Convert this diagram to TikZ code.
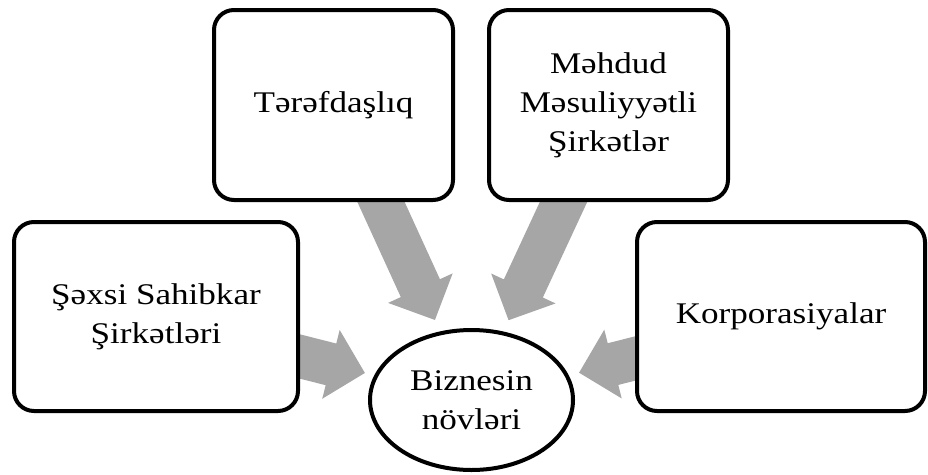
\documentclass[tikz,border=0pt]{standalone}
\usepackage{fontspec}
\setmainfont{Liberation Serif}[FakeStretch=1.17]
\usetikzlibrary{calc,shapes.geometric,backgrounds}
\definecolor{arrowgray}{HTML}{A6A6A6}

% Broad block arrow: #1 = start of the shaft, #2 = tip
\newcommand{\blockarrow}[2]{%
  \coordinate (ba-b) at ($(#2)!35pt!(#1)$);
  \fill[arrowgray]
    ($(#1)!21.5pt!90:(#2)$) -- ($(ba-b)!21.5pt!90:(#2)$) --
    ($(ba-b)!35.5pt!90:(#2)$) -- (#2) --
    ($(ba-b)!35.5pt!-90:(#2)$) -- ($(ba-b)!21.5pt!-90:(#2)$) --
    ($(#1)!21.5pt!-90:(#2)$) -- cycle;
}

\tikzset{
  typebox/.style={draw=black, line width=4pt, rounded corners=20pt, fill=white,
    align=center, inner sep=0pt, font=\fontsize{30}{39}\selectfont},
  hubnode/.style={draw=black, line width=4pt, ellipse, fill=white,
    align=center, inner sep=0pt, minimum width=203pt, minimum height=140pt,
    font=\fontsize{30}{39}\selectfont},
}

\begin{document}
\begin{tikzpicture}[x=1pt, y=-1pt]
  \useasboundingbox (0,0) rectangle (928,474);

  % business types
  \node[typebox, minimum width=284pt, minimum height=189pt] (sp) at (156,316.5)
    {Şəxsi Sahibkar\\Şirkətləri};
  \node[typebox, minimum width=239pt, minimum height=190pt] (td) at (333.5,105)
    {Tərəfdaşlıq};
  \node[typebox, minimum width=239pt, minimum height=190pt] (mm) at (608.5,105)
    {Məhdud\\Məsuliyyətli\\Şirkətlər};
  \node[typebox, minimum width=288pt, minimum height=189pt] (kp) at (781,316.5)
    {Korporasiyalar};

  % central ellipse
  \node[hubnode] (ell) at (471.5,400) {Biznesin\\növləri};

  % arrow end points on the box edges
  \coordinate (eL) at ($(sp.east)+(0,40)$);
  \coordinate (eT) at ($(td.south)+(47.5,0)$);
  \coordinate (eM) at ($(mm.south)+(-45,0)$);
  \coordinate (eR) at ($(kp.west)+(0,42)$);

  % shaft starts, hidden under the boxes
  \coordinate (aL) at ($(eL)!-25pt!(ell.center)$);
  \coordinate (aT) at ($(eT)!-25pt!(ell.center)$);
  \coordinate (aM) at ($(eM)!-25pt!(ell.center)$);
  \coordinate (aR) at ($(eR)!-25pt!(ell.center)$);

  % tips, short of the ellipse
  \coordinate (tL) at ($(ell.center)!110pt!(eL)$);
  \coordinate (tT) at ($(ell.center)!88pt!(eT)$);
  \coordinate (tM) at ($(ell.center)!88pt!(eM)$);
  \coordinate (tR) at ($(ell.center)!111pt!(eR)$);

  \begin{scope}[on background layer]
    \blockarrow{aL}{tL}
    \blockarrow{aT}{tT}
    \blockarrow{aM}{tM}
    \blockarrow{aR}{tR}
  \end{scope}
\end{tikzpicture}
\end{document}
